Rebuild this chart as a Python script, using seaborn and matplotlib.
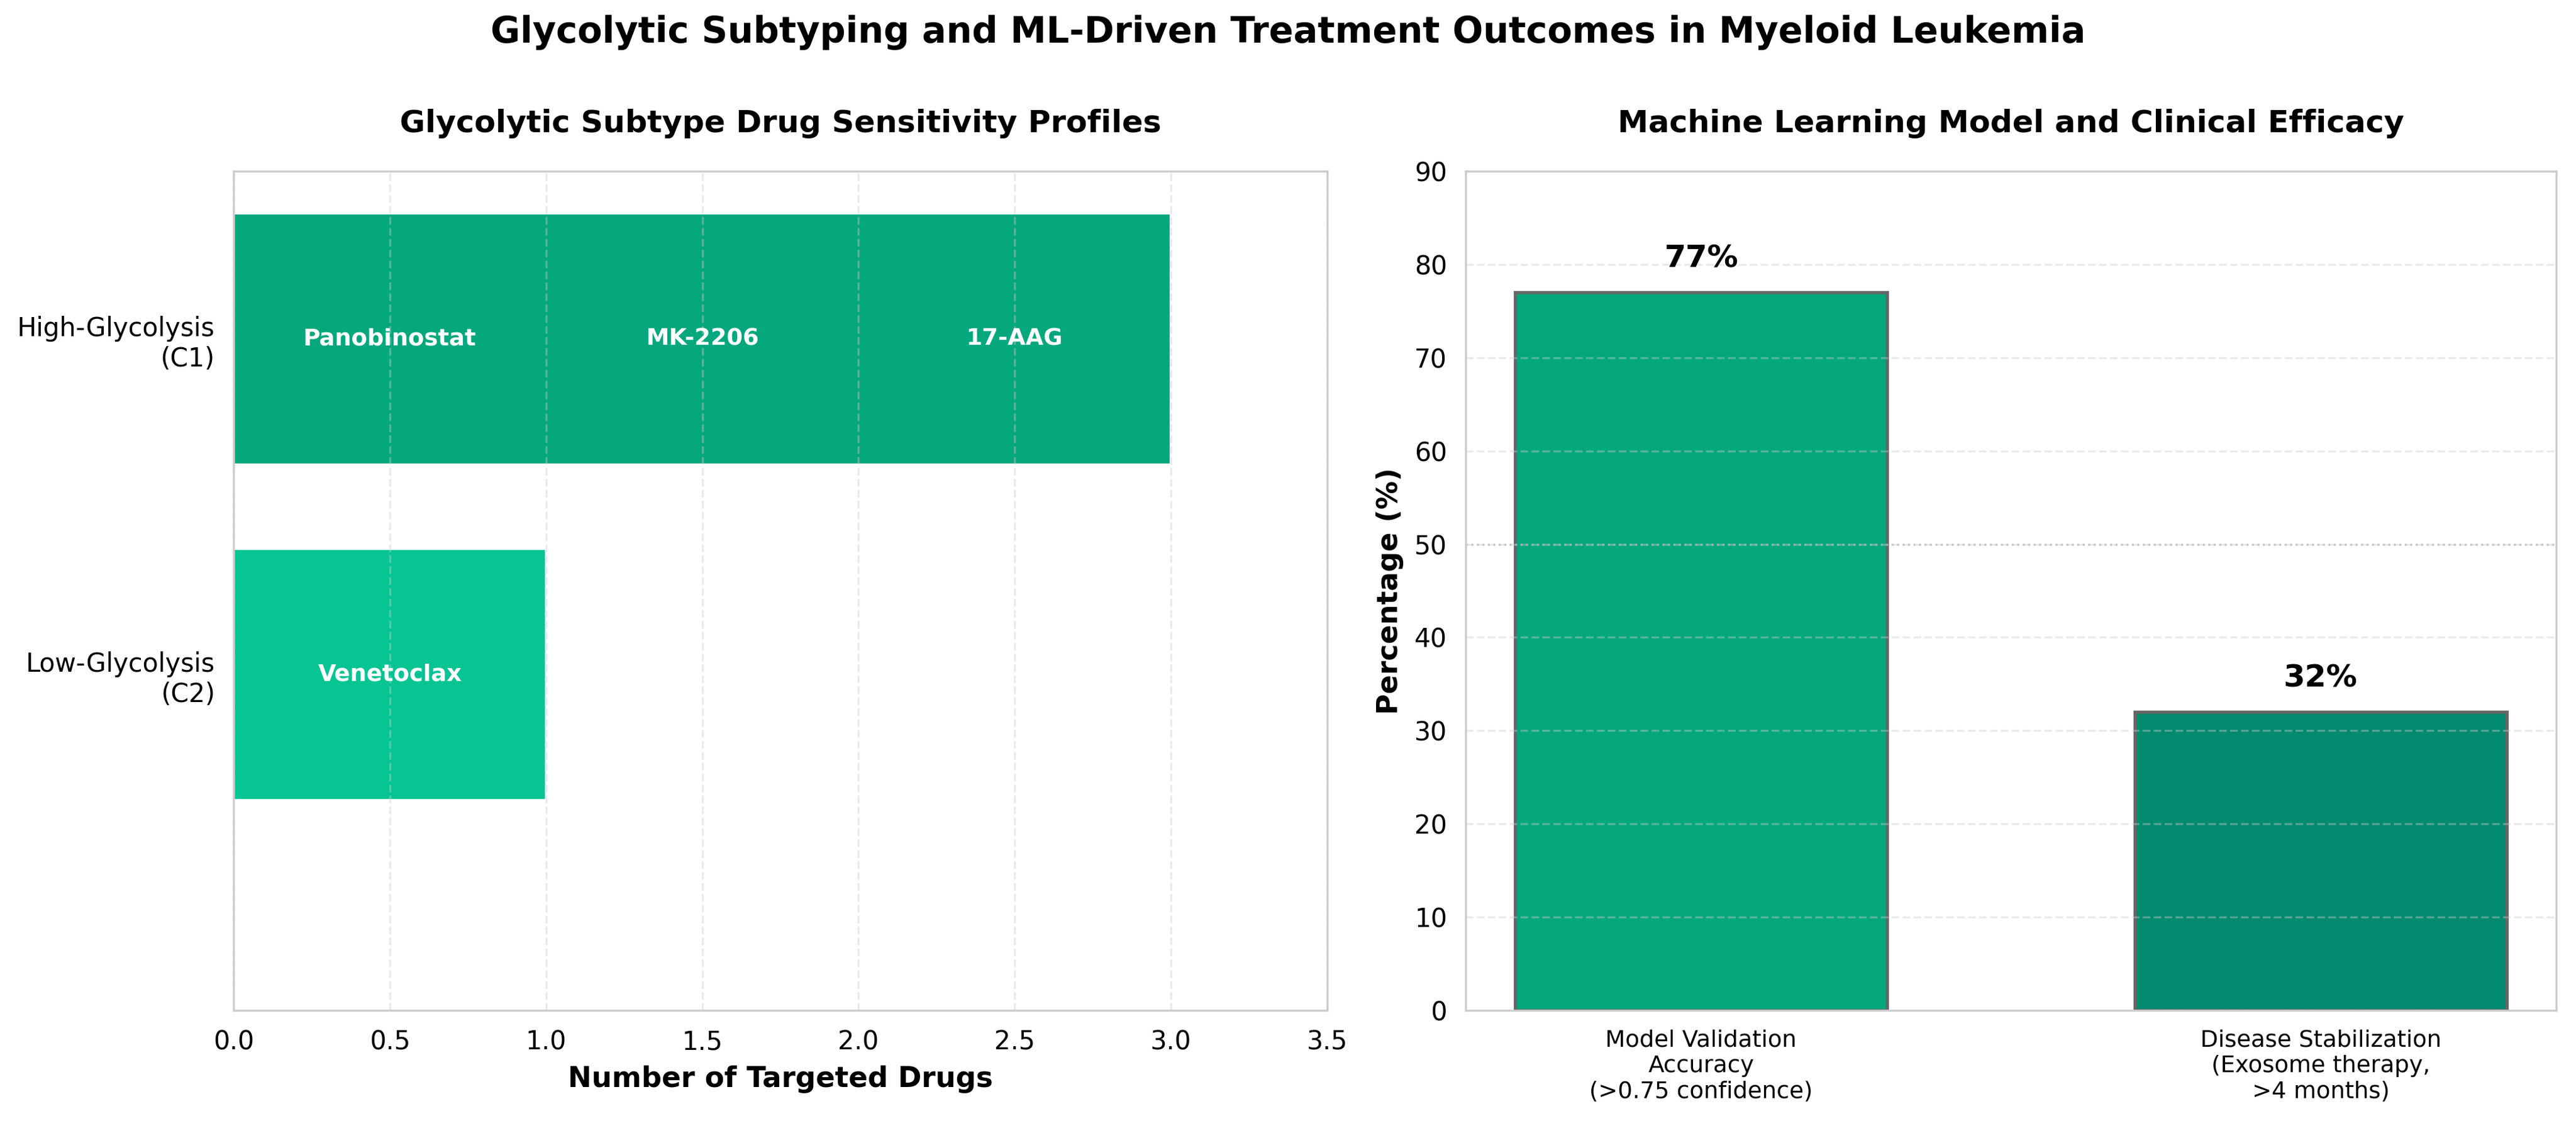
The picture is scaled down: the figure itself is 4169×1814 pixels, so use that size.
import matplotlib
matplotlib.use("Agg")
import matplotlib.pyplot as plt
import seaborn as sns
import pandas as pd

# ==========================================================
# DATA
# ==========================================================

subtypes = ["High-Glycolysis\n(C1)", "Low-Glycolysis\n(C2)"]
drug_counts = [3, 1]
subtype_drugs = [
    ["Panobinostat", "MK-2206", "17-AAG"],
    ["Venetoclax"],
]
subtype_colors = ["#05A77D", "#07C493"]

outcomes = [
    "Model Validation\nAccuracy\n(>0.75 confidence)",
    "Disease Stabilization\n(Exosome therapy,\n>4 months)",
]
outcome_values = [77, 32]
outcome_colors = ["#05A77D", "#048A6E"]

# ==========================================================
# STYLE
# ==========================================================

sns.set_style("white")
plt.rcParams["font.family"] = ["DejaVu Sans"]
plt.rcParams["text.color"] = "black"
plt.rcParams["axes.labelcolor"] = "black"
plt.rcParams["axes.edgecolor"] = "#cccccc"
plt.rcParams["xtick.color"] = "#cccccc"
plt.rcParams["ytick.color"] = "#cccccc"
plt.rcParams["xtick.labelcolor"] = "black"
plt.rcParams["ytick.labelcolor"] = "black"

fig = plt.figure(figsize=(4169 / 300, 1814 / 300), dpi=300)

ax1 = fig.add_axes([0.0907, 0.0987, 0.4245, 0.7486])
ax2 = fig.add_axes([0.5690, 0.0987, 0.4233, 0.7486])

# ==========================================================
# LEFT PANEL
# ==========================================================

left_df = pd.DataFrame({"Subtype": subtypes, "Drugs": drug_counts})

sns.barplot(
    data=left_df,
    x="Drugs",
    y="Subtype",
    hue="Subtype",
    palette=subtype_colors,
    orient="h",
    width=0.75,
    saturation=1,
    legend=False,
    ax=ax1,
)

for i, drugs in enumerate(subtype_drugs):
    for j, drug in enumerate(drugs):
        ax1.text(
            j + 0.5, i, drug,
            ha="center", va="center",
            color="white", fontsize=9, fontweight="bold",
        )

ax1.set_xlim(0, 3.5)
ax1.set_ylim(2.0, -0.5)
ax1.set_xlabel("Number of Targeted Drugs", fontsize=11, fontweight="bold")
ax1.set_ylabel("")
ax1.set_title(
    "Glycolytic Subtype Drug Sensitivity Profiles",
    fontsize=12, fontweight="bold", pad=15,
)
ax1.grid(axis="x", linestyle="--", color="#cccccc", alpha=0.4, linewidth=0.8)
ax1.set_axisbelow(False)
ax1.tick_params(axis="both", labelsize=10, length=3.75, width=0.8)

# ==========================================================
# RIGHT PANEL
# ==========================================================

right_df = pd.DataFrame({"Outcome": outcomes, "Value": outcome_values})

sns.barplot(
    data=right_df,
    x="Outcome",
    y="Value",
    hue="Outcome",
    palette=outcome_colors,
    width=0.6,
    saturation=1,
    edgecolor="#666666",
    linewidth=1.25,
    legend=False,
    ax=ax2,
)

for i, v in enumerate(outcome_values):
    ax2.text(
        i, v + 2, f"{v}%",
        ha="center", va="bottom",
        fontsize=12, fontweight="bold",
    )

ax2.axhline(50, color="#aaaaaa", linestyle=":", linewidth=0.8, alpha=0.7)

ax2.set_xlim(-0.38, 1.38)
ax2.set_ylim(0, 90)
ax2.set_yticks(range(0, 91, 10))
ax2.set_xlabel("")
ax2.set_ylabel("Percentage (%)", fontsize=11, fontweight="bold")
ax2.set_title(
    "Machine Learning Model and Clinical Efficacy",
    fontsize=12, fontweight="bold", pad=15,
)
ax2.grid(axis="y", linestyle="--", color="#cccccc", alpha=0.4, linewidth=0.8)
ax2.set_axisbelow(False)
ax2.tick_params(axis="y", labelsize=10, length=3.75, width=0.8)
ax2.tick_params(axis="x", labelsize=9, length=3.75, width=0.8)

fig.suptitle(
    "Glycolytic Subtyping and ML-Driven Treatment Outcomes in Myeloid Leukemia",
    fontsize=14, fontweight="bold", y=0.971, va="center",
)

fig.savefig("out.png", dpi=300)
